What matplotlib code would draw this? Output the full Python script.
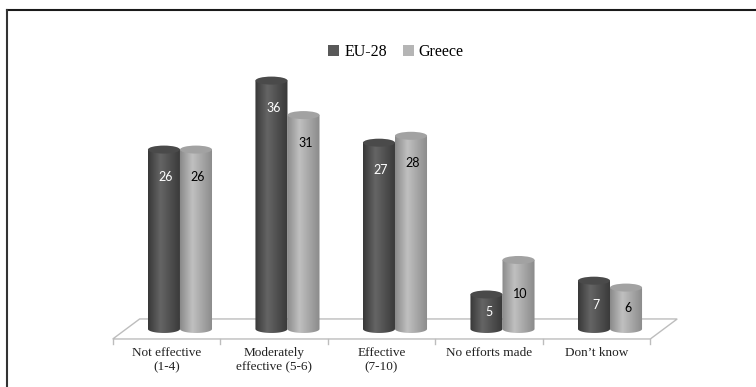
import numpy as np
import matplotlib.pyplot as plt
from matplotlib.patches import Ellipse, Polygon, Patch
from matplotlib.lines import Line2D
from matplotlib.colors import LinearSegmentedColormap

categories = ['Not effective\n(1-4)', 'Moderately\neffective (5-6)', 'Effective\n(7-10)',
              'No efforts made', 'Don\u2019t know']
eu28 = [26, 36, 27, 5, 7]
greece = [26, 31, 28, 10, 6]
series_names = ['EU-28', 'Greece']

# shading for each series: (edge, highlight, top cap, legend swatch, label colour)
styles = [
    dict(edge='#383838', mid='#656565', top='#4a4a4a', swatch='#595959', text='white'),
    dict(edge='#8a8a8a', mid='#c0c0c0', top='#a2a2a2', swatch='#b5b5b5', text='black'),
]

fig = plt.figure(figsize=(7.56, 3.87), dpi=100)
ax = fig.add_axes([0, 0, 1, 1])
ax.set_xlim(-1.674, 5.358)
ax.set_ylim(-8.41, 47.68)
ax.axis('off')

r = 0.149      # cylinder radius in category units
ry = 0.58      # half height of the elliptical caps in value units
dx, dy = 0.125, 1.45   # half depth of the floor

# floor parallelogram
n = len(categories)
floor = Polygon([(-0.5 - dx, -dy), (n - 0.5 - dx, -dy), (n - 0.5 + dx, dy), (-0.5 + dx, dy)],
                closed=True, facecolor='white', edgecolor='#bdbdbd', lw=1.0, zorder=1)
ax.add_patch(floor)
for k in range(n + 1):
    xb = k - 0.5 - dx
    ax.plot([xb, xb], [-dy, -dy - 0.7], color='#bdbdbd', lw=1.0, zorder=1)


def cylinder(xc, v, st, z):
    cmap = LinearSegmentedColormap.from_list(
        'cyl', [(0, st['edge']), (0.38, st['mid']), (1, st['edge'])])
    t = np.linspace(0, np.pi, 60)
    bottom = np.column_stack([xc - r * np.cos(t), -ry * np.sin(t)])
    body = np.vstack([[xc - r, v], bottom, [xc + r, v]])
    clip = Polygon(body, closed=True, facecolor='none', edgecolor='none')
    ax.add_patch(clip)
    grad = np.linspace(0, 1, 200).reshape(1, -1)
    im = ax.imshow(grad, cmap=cmap, extent=[xc - r, xc + r, -ry, v],
                   aspect='auto', origin='lower', zorder=z, interpolation='bilinear')
    im.set_clip_path(clip)
    ax.add_patch(Ellipse((xc, v), 2 * r, 2 * ry, facecolor=st['top'],
                         edgecolor='none', zorder=z + 0.1))


for i in range(n):
    for j, vals in enumerate([eu28, greece]):
        v = vals[i]
        xc = i - r + 2 * r * j
        cylinder(xc, v, styles[j], 3 + j)
        ly = v - 4 if v >= 20 else v * 0.5
        ax.text(xc + 0.02, ly, str(v), ha='center', va='center', fontsize=9,
                family='Lato', color=styles[j]['text'], zorder=10)
    ax.text(i - dx, -dy - 1.2, categories[i], ha='center', va='top', fontsize=9.5,
            family='Liberation Serif', linespacing=1.25, color='#222222')

handles = [Patch(facecolor=s['swatch'], edgecolor='none') for s in styles]
fig.legend(handles, series_names, loc='center', bbox_to_anchor=(396 / 756, 1 - 52 / 387),
           ncol=2, frameon=False, handlelength=0.7, handleheight=0.7, handletextpad=0.3,
           columnspacing=1.0, prop={'family': 'Liberation Serif', 'size': 11.5})

# outer frame (top and left edges only)
fig.add_artist(Line2D([7 / 756, 1], [1 - 10 / 387, 1 - 10 / 387], color='#1a1a1a', lw=1.5))
fig.add_artist(Line2D([7 / 756, 7 / 756], [0, 1 - 10 / 387], color='#333333', lw=1.5))

fig.savefig('out.png', dpi=100)
